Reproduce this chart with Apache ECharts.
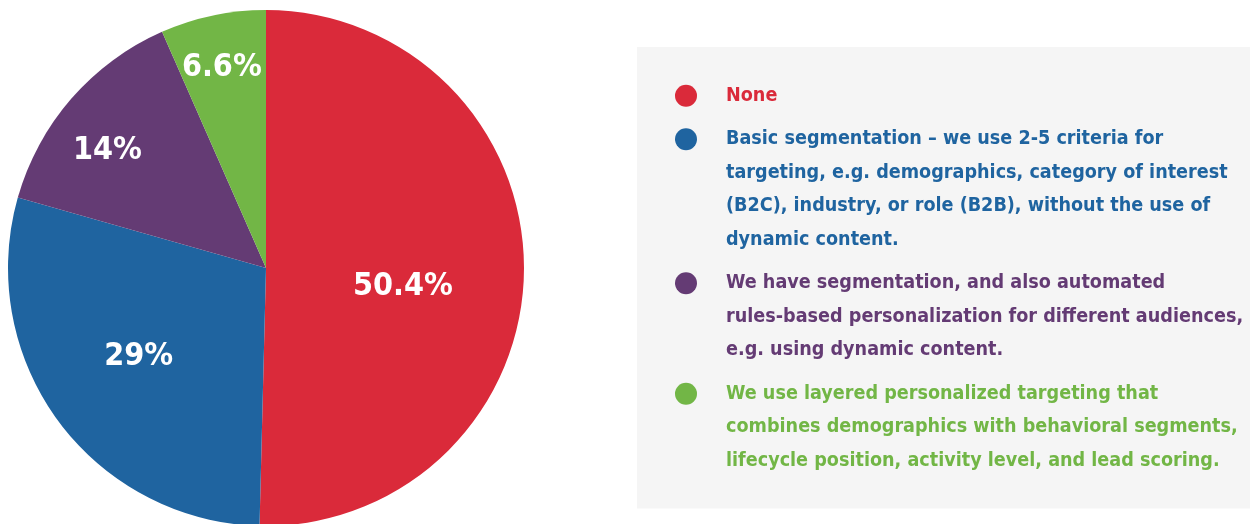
<!DOCTYPE html>
<html>
<head>
<meta charset="utf-8">
<script src="https://cdn.jsdelivr.net/npm/echarts@6/dist/echarts.min.js"></script>
<style>
html,body{margin:0;padding:0;background:#fff;}
#chart{width:1250px;height:524px;}
</style>
</head>
<body>
<div id="chart"></div>
<script>
const categories = [
  'None',
  'Basic segmentation \u2013 we use 2-5 criteria for\ntargeting, e.g. demographics, category of interest\n(B2C), industry, or role (B2B), without the use of\ndynamic content.',
  'We have segmentation, and also automated\nrules-based personalization for different audiences,\ne.g. using dynamic content.',
  'We use layered personalized targeting that\ncombines demographics with behavioral segments,\nlifecycle position, activity level, and lead scoring.'
];
const values = [50.4, 29, 14, 6.6];
const colors = ['#da2a3a', '#1f64a0', '#643b74', '#72b646'];
const labelOffsets = [[5, 17], [-21, 10], [-59, -31], [-17, -71]];

const FONT = '"Liberation Sans Narrow", "DejaVu Sans Condensed", "Liberation Sans", sans-serif';
const LH = 33.5;

const rich = { sp: { width: 51, lineHeight: LH }, g: { width: 29, lineHeight: LH } };
colors.forEach((c, i) => {
  rich['dot' + i] = { width: 22, height: 22, borderRadius: 11, backgroundColor: c, lineHeight: LH };
  rich['t' + i] = { color: c, fontFamily: FONT, fontWeight: 'bold', fontSize: 19.6, lineHeight: LH };
});

const chart = echarts.init(document.getElementById('chart'));
chart.setOption({
  animation: false,
  color: colors,
  legend: {
    orient: 'vertical',
    left: 637,
    top: 47,
    height: 520,
    padding: [32, 80, 31, 33],
    backgroundColor: '#f5f5f5',
    itemWidth: 0,
    itemHeight: 0,
    itemGap: 10,
    selectedMode: false,
    data: categories,
    formatter: function (name) {
      const idx = categories.indexOf(name);
      return name.split('\n').map((line, i) =>
        (i === 0 ? '{dot' + idx + '|}{g|}' : '{sp|}') + '{t' + idx + '|' + line + '}'
      ).join('\n');
    },
    textStyle: { rich: rich, lineHeight: LH }
  },
  series: [{
    type: 'pie',
    center: [266, 268],
    radius: 258,
    startAngle: 90,
    clockwise: true,
    data: categories.map((n, i) => ({
      name: n,
      value: values[i],
      label: { offset: labelOffsets[i] }
    })),
    itemStyle: { borderWidth: 0 },
    label: {
      show: true,
      position: 'inside',
      formatter: '{c}%',
      color: '#ffffff',
      fontFamily: FONT,
      fontWeight: 'bold',
      fontSize: 32
    },
    labelLine: { show: false },
    emphasis: { disabled: true }
  }]
});
</script>
</body>
</html>
